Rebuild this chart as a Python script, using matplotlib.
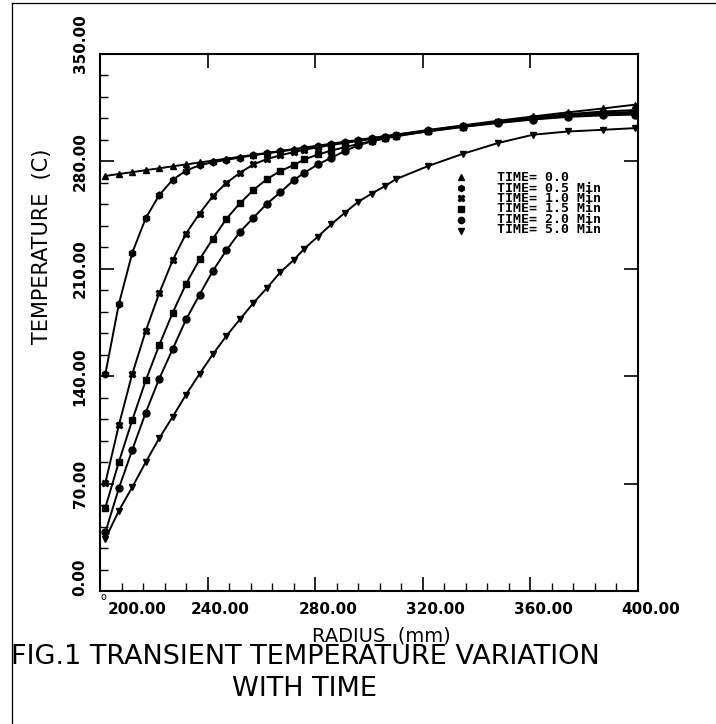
import matplotlib
matplotlib.use("Agg")
import matplotlib.pyplot as plt
from matplotlib.lines import Line2D
from matplotlib.transforms import ScaledTranslation

# radius of the plotted nodes (mm)
radius = [202, 207, 212, 217, 222, 227, 232, 237, 242, 247, 252, 257, 262, 267, 272,
          276, 281, 286, 291, 296, 301, 306, 310, 322, 335, 348, 361, 374, 387, 399]

# temperature (C) for each time step
t_00 = [270.5, 271.8, 273.0, 274.3, 275.5, 276.8, 278.0, 279.3, 280.5, 281.8, 283.0, 284.3, 285.5, 286.8, 288.0,
        289.0, 290.3, 291.5, 292.8, 294.0, 295.3, 296.5, 297.5, 300.5, 303.5, 306.5, 309.3, 312.0, 314.5, 317.0]
t_05 = [141.5, 187.0, 220.5, 243.0, 258.0, 268.0, 274.0, 277.5, 279.5, 281.0, 282.5, 284.0, 285.2, 286.5, 287.7,
        288.7, 290.0, 291.2, 292.5, 293.7, 295.0, 296.2, 297.2, 300.2, 303.2, 306.0, 308.5, 310.8, 312.5, 313.5]
t_10 = [70.5, 108.0, 141.5, 169.5, 194.0, 215.5, 233.0, 246.0, 257.5, 266.0, 272.5, 278.0, 281.5, 284.0, 286.0,
        287.6, 289.2, 290.7, 292.0, 293.3, 294.7, 296.0, 297.0, 300.0, 303.0, 305.7, 308.0, 310.2, 311.6, 312.3]
t_15 = [54.4, 84.0, 111.4, 137.2, 160.2, 181.3, 200.2, 216.1, 229.7, 242.6, 252.7, 261.3, 268.4, 273.7, 277.6,
        281.3, 284.5, 287.0, 289.3, 291.3, 293.2, 295.0, 296.3, 299.7, 302.7, 305.4, 307.6, 309.5, 310.8, 311.3]
t_20 = [38.3, 66.9, 92.0, 116.3, 138.3, 157.6, 177.0, 193.1, 208.8, 222.1, 234.0, 243.2, 252.3, 259.8, 267.7,
        272.7, 278.0, 282.4, 286.7, 290.5, 293.0, 295.3, 296.8, 299.5, 302.5, 305.0, 307.3, 309.0, 310.0, 310.5]
t_50 = [34.0, 52.3, 67.7, 84.0, 99.5, 113.5, 128.0, 141.5, 154.4, 166.3, 177.0, 187.7, 197.4, 207.7, 215.7,
        223.2, 231.0, 239.0, 246.5, 253.7, 259.0, 264.0, 268.4, 277.0, 285.0, 292.0, 297.4, 299.5, 300.6, 301.7]

series = [t_00, t_05, t_10, t_15, t_20, t_50]
labels = ["TIME= 0.0", "TIME= 0.5 Min", "TIME= 1.0 Min",
          "TIME= 1.5 Min", "TIME= 2.0 Min", "TIME= 5.0 Min"]
markers = ["^", "h", "X", "s", "o", "v"]

x_ticks = [200, 240, 280, 320, 360, 400]
y_ticks = [0, 70, 140, 210, 280, 350]

fig = plt.figure(figsize=(7.16, 7.24), dpi=100)
ax = fig.add_axes([100 / 716, 1 - 591 / 724, 538 / 716, 537 / 724])

for temp, lab, mk in zip(series, labels, markers):
    ax.plot(radius, temp, color="black", lw=1.4, marker=mk, markersize=5, label=lab)

ax.set_xlim(200, 400)
ax.set_ylim(0, 350)
ax.set_xticks(x_ticks)
ax.set_yticks(y_ticks)
ax.set_xticks([200 + 8 * i for i in range(26)], minor=True)
ax.set_yticks([14 * i for i in range(26)], minor=True)
ax.set_xticklabels(["%.2f" % v for v in x_ticks], fontsize=11, fontweight="bold")
ax.set_yticklabels(["%.2f" % v for v in y_ticks], fontsize=11, fontweight="bold",
                   rotation=90, va="center")

ax.tick_params(which="major", direction="in", length=10, width=1.2,
               top=True, right=True, pad=8)
ax.tick_params(which="minor", direction="in", length=6, width=1.0,
               top=False, right=False)
ax.tick_params(axis="y", pad=9)
for sp in ax.spines.values():
    sp.set_linewidth(1.5)

# shift the tick labels like the plotter did
for i, lbl in enumerate(ax.get_xticklabels()):
    dx = 37 if i == 0 else 13
    lbl.set_transform(lbl.get_transform() + ScaledTranslation(dx / 100, 0, fig.dpi_scale_trans))
for i, lbl in enumerate(ax.get_yticklabels()):
    dy = 0
    if i == 0:
        dy = 14
    elif i == len(y_ticks) - 1:
        dy = 10
    lbl.set_transform(lbl.get_transform() + ScaledTranslation(0, dy / 100, fig.dpi_scale_trans))

fig.text(103 / 716, 1 - 597 / 724, "o", fontsize=7, ha="center", va="center")

fig.text(42 / 716, 1 - 246 / 724, "TEMPERATURE  (C)", rotation=90, fontsize=15,
         ha="center", va="center")
fig.text(381 / 716, 1 - 636 / 724, "RADIUS  (mm)", fontsize=14, ha="center", va="center")
fig.text(305 / 716, 1 - 673 / 724, "FIG.1 TRANSIENT TEMPERATURE VARIATION\nWITH TIME",
         fontsize=19.5, ha="center", va="center", multialignment="center", linespacing=1.25)

# legend as on the plotter output: marker column, then one block of text
row_gap = 10.7
for i, mk in enumerate(markers):
    yy = 1 - (177 + row_gap * i) / 724
    fig.add_artist(Line2D([461 / 716], [yy], color="black", marker=mk, markersize=4.5,
                          linestyle="none"))
fig.text(497 / 716, 1 - (177 + row_gap * 2.5) / 724, "\n".join(labels), fontsize=9.5,
         family="DejaVu Sans Mono", weight="bold", ha="left", va="center",
         linespacing=0.74)

# outer frame of the scanned page
fig.add_artist(Line2D([12 / 716, 12 / 716], [0, 1 - 3 / 724], color="black", lw=0.9))
fig.add_artist(Line2D([12 / 716, 1], [1 - 3 / 724, 1 - 3 / 724], color="black", lw=0.9))

fig.savefig("out.png", dpi=100)
